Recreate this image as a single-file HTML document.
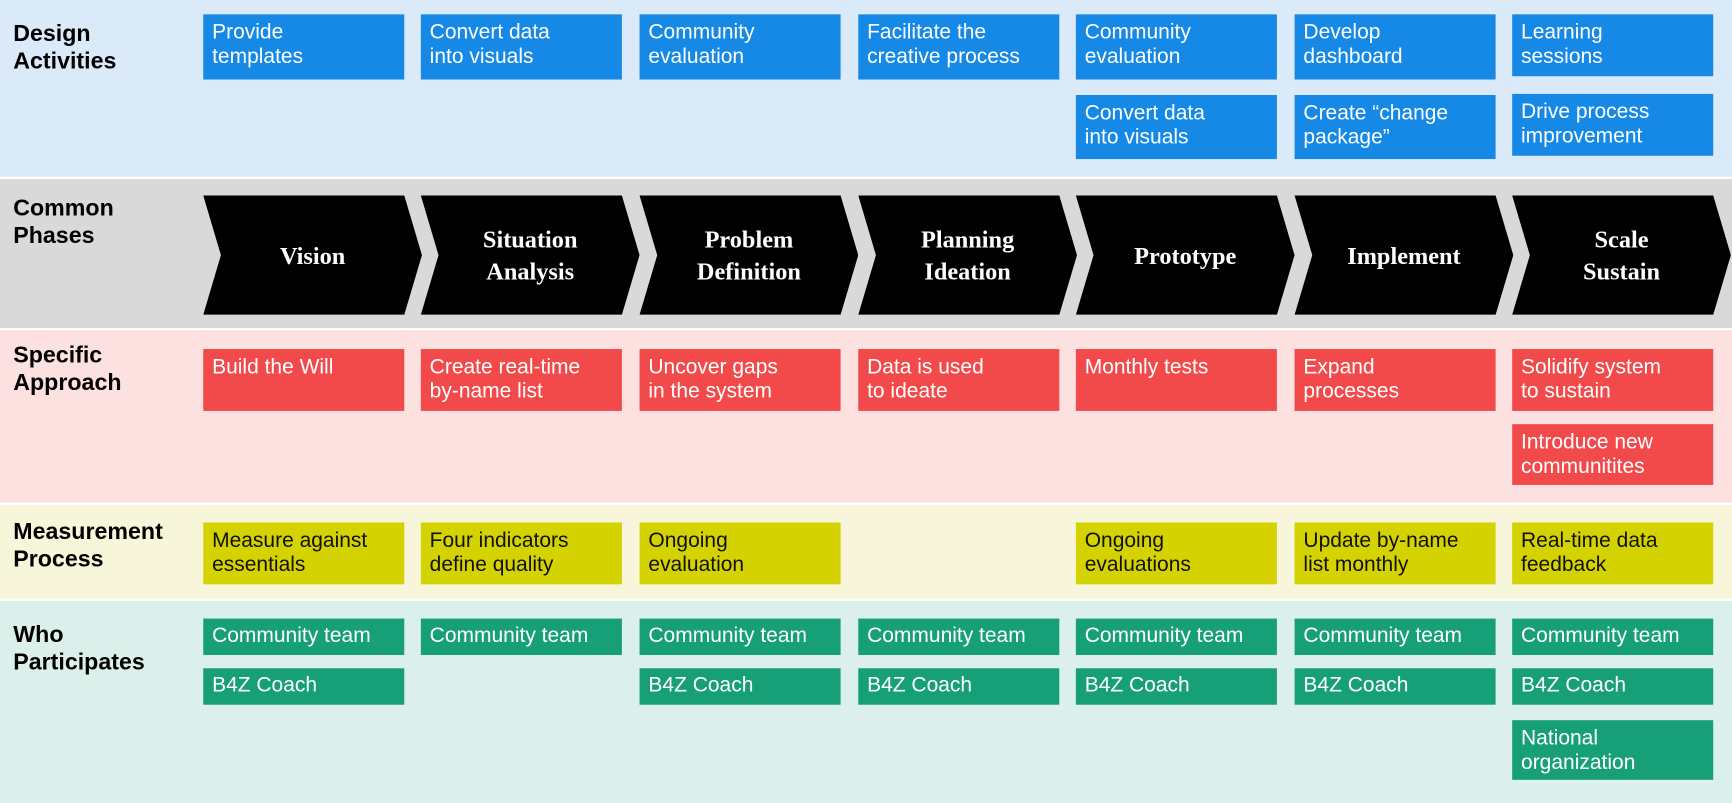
<!DOCTYPE html>
<html><head><meta charset="utf-8"><style>
html,body{margin:0;padding:0;width:1732px;height:803px;overflow:hidden;background:#fff}
#w{position:absolute;left:0;top:0;width:1568px;height:727px;transform:scale(1.10459);transform-origin:0 0;font-family:"Liberation Sans",sans-serif}
.band{position:absolute;left:0;width:1568px}
.lab{position:absolute;left:12px;font-weight:bold;font-size:21px;line-height:25px;color:#000}
.b{position:absolute;width:182px;box-sizing:border-box;padding:6px 8px;font-size:19px;line-height:22px;color:#fff}
.bl{background:#1589e5}.rd{background:#f24a4a}.yl{background:#d4d200;color:#111}.gr{background:#17a078}
.ch{position:absolute;top:177px;width:198px;height:108px}
.ch svg{position:absolute;left:0;top:0}
.ch div{position:absolute;left:16px;width:166px;top:0;height:108px;display:flex;align-items:center;justify-content:center;text-align:center;color:#fff;font-family:"Liberation Serif",serif;font-weight:bold;font-size:22px;line-height:29px}
</style></head><body><div id="w">
<div class="band" style="top:0;height:160px;background:#dbeaf9"></div>
<div class="band" style="top:162px;height:135px;background:#d9d9d9"></div>
<div class="band" style="top:299px;height:156px;background:#fde0e0"></div>
<div class="band" style="top:457px;height:85px;background:#f8f6da"></div>
<div class="band" style="top:544px;height:183px;background:#dcf0eb"></div>

<div class="lab" style="top:18px">Design<br>Activities</div>
<div class="lab" style="top:176px">Common<br>Phases</div>
<div class="lab" style="top:309px">Specific<br>Approach</div>
<div class="lab" style="top:469px">Measurement<br>Process</div>
<div class="lab" style="top:562px">Who<br>Participates</div>

<div class="b bl" style="left:184px;top:13px;height:59px">Provide<br>templates</div>
<div class="b bl" style="left:381px;top:13px;height:59px">Convert data<br>into visuals</div>
<div class="b bl" style="left:579px;top:13px;height:59px">Community<br>evaluation</div>
<div class="b bl" style="left:777px;top:13px;height:59px">Facilitate the<br>creative process</div>
<div class="b bl" style="left:974px;top:13px;height:59px">Community<br>evaluation</div>
<div class="b bl" style="left:974px;top:86px;height:58px">Convert data<br>into visuals</div>
<div class="b bl" style="left:1172px;top:13px;height:59px">Develop<br>dashboard</div>
<div class="b bl" style="left:1172px;top:86px;height:58px">Create “change<br>package”</div>
<div class="b bl" style="left:1369px;top:13px;height:56px">Learning<br>sessions</div>
<div class="b bl" style="left:1369px;top:85px;height:56px">Drive process<br>improvement</div>

<div class="ch" style="left:184px"><svg width="198" height="108"><polygon points="0,0 182,0 198,54 182,108 0,108 16,54" fill="#000"/></svg><div>Vision</div></div>
<div class="ch" style="left:381px"><svg width="198" height="108"><polygon points="0,0 182,0 198,54 182,108 0,108 16,54" fill="#000"/></svg><div>Situation<br>Analysis</div></div>
<div class="ch" style="left:579px"><svg width="198" height="108"><polygon points="0,0 182,0 198,54 182,108 0,108 16,54" fill="#000"/></svg><div>Problem<br>Definition</div></div>
<div class="ch" style="left:777px"><svg width="198" height="108"><polygon points="0,0 182,0 198,54 182,108 0,108 16,54" fill="#000"/></svg><div>Planning<br>Ideation</div></div>
<div class="ch" style="left:974px"><svg width="198" height="108"><polygon points="0,0 182,0 198,54 182,108 0,108 16,54" fill="#000"/></svg><div>Prototype</div></div>
<div class="ch" style="left:1172px"><svg width="198" height="108"><polygon points="0,0 182,0 198,54 182,108 0,108 16,54" fill="#000"/></svg><div>Implement</div></div>
<div class="ch" style="left:1369px"><svg width="198" height="108"><polygon points="0,0 182,0 198,54 182,108 0,108 16,54" fill="#000"/></svg><div>Scale<br>Sustain</div></div>

<div class="b rd" style="left:184px;top:316px;height:56px">Build the Will</div>
<div class="b rd" style="left:381px;top:316px;height:56px">Create real-time<br>by-name list</div>
<div class="b rd" style="left:579px;top:316px;height:56px">Uncover gaps<br>in the system</div>
<div class="b rd" style="left:777px;top:316px;height:56px">Data is used<br>to ideate</div>
<div class="b rd" style="left:974px;top:316px;height:56px">Monthly tests</div>
<div class="b rd" style="left:1172px;top:316px;height:56px">Expand<br>processes</div>
<div class="b rd" style="left:1369px;top:316px;height:56px">Solidify system<br>to sustain</div>
<div class="b rd" style="left:1369px;top:384px;height:55px">Introduce new<br>communitites</div>

<div class="b yl" style="left:184px;top:473px;height:56px">Measure against<br>essentials</div>
<div class="b yl" style="left:381px;top:473px;height:56px">Four indicators<br>define quality</div>
<div class="b yl" style="left:579px;top:473px;height:56px">Ongoing<br>evaluation</div>
<div class="b yl" style="left:974px;top:473px;height:56px">Ongoing<br>evaluations</div>
<div class="b yl" style="left:1172px;top:473px;height:56px">Update by-name<br>list monthly</div>
<div class="b yl" style="left:1369px;top:473px;height:56px">Real-time data<br>feedback</div>

<div class="b gr" style="left:184px;top:560px;height:33px;padding-top:5px">Community team</div>
<div class="b gr" style="left:381px;top:560px;height:33px;padding-top:5px">Community team</div>
<div class="b gr" style="left:579px;top:560px;height:33px;padding-top:5px">Community team</div>
<div class="b gr" style="left:777px;top:560px;height:33px;padding-top:5px">Community team</div>
<div class="b gr" style="left:974px;top:560px;height:33px;padding-top:5px">Community team</div>
<div class="b gr" style="left:1172px;top:560px;height:33px;padding-top:5px">Community team</div>
<div class="b gr" style="left:1369px;top:560px;height:33px;padding-top:5px">Community team</div>
<div class="b gr" style="left:184px;top:605px;height:33px;padding-top:5px">B4Z Coach</div>
<div class="b gr" style="left:579px;top:605px;height:33px;padding-top:5px">B4Z Coach</div>
<div class="b gr" style="left:777px;top:605px;height:33px;padding-top:5px">B4Z Coach</div>
<div class="b gr" style="left:974px;top:605px;height:33px;padding-top:5px">B4Z Coach</div>
<div class="b gr" style="left:1172px;top:605px;height:33px;padding-top:5px">B4Z Coach</div>
<div class="b gr" style="left:1369px;top:605px;height:33px;padding-top:5px">B4Z Coach</div>
<div class="b gr" style="left:1369px;top:652px;height:54px">National<br>organization</div>
</div></body></html>
